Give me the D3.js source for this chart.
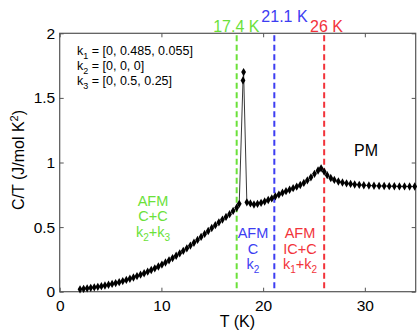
<!DOCTYPE html>
<html><head><meta charset="utf-8">
<script src="https://cdn.jsdelivr.net/npm/d3@7"></script>
<style>
body{margin:0;background:#fff;}
text{font-family:"Liberation Sans",Arial,Helvetica,sans-serif;}
</style></head>
<body><svg id="c" width="418" height="331"></svg>
<script>
const temps = [2.0,2.35,2.7,3.05,3.4,3.75,4.1,4.45,4.8,5.15,5.5,5.85,6.2,6.55,6.9,7.25,7.6,7.95,8.3,8.65,9.0,9.35,9.7,10.05,10.4,10.75,11.1,11.45,11.8,12.15,12.5,12.85,13.2,13.55,13.9,14.25,14.6,14.95,15.3,15.65,16.0,16.35,16.7,17.05,17.4,17.65,
 18.02,18.08,18.4,18.75,19.1,19.45,19.8,20.15,20.5,20.85,21.2,21.55,21.9,22.25,22.6,22.95,23.3,23.65,24.0,24.35,24.7,25.05,25.4,25.7,26.0,26.3,26.65,27.0,27.4,27.8,28.2,28.6,29.0,29.45,29.9,30.4,30.9,31.4,31.9,32.4,32.9,33.4,33.9,34.4,34.9];
const cOverT = [0.018,0.022,0.026,0.030,0.034,0.038,0.043,0.048,0.054,0.060,0.067,0.074,0.082,0.091,0.100,0.110,0.121,0.132,0.143,0.155,0.168,0.181,0.195,0.210,0.226,0.243,0.260,0.278,0.297,0.316,0.336,0.357,0.379,0.401,0.424,0.447,0.470,0.493,0.515,0.537,0.558,0.579,0.600,0.625,0.650,0.680,
 1.635,1.700,0.692,0.683,0.675,0.680,0.688,0.698,0.710,0.722,0.738,0.752,0.766,0.778,0.789,0.801,0.813,0.826,0.842,0.862,0.885,0.912,0.938,0.955,0.930,0.902,0.880,0.865,0.853,0.845,0.839,0.834,0.830,0.827,0.824,0.822,0.820,0.819,0.818,0.817,0.816,0.815,0.815,0.814,0.814];
const xTicks = [0,10,20,30];
const yTicks = [0,0.5,1,1.5,2];
const transitions = [17.4,21.1,26];
const transitionLabels = ["17.4 K","21.1 K","26 K"];
const kLines = [["1","[0, 0.485, 0.055]"],["2","[0, 0, 0]"],["3","[0, 0.5, 0.25]"]];

const green="#6be13a", blue="#3d3df2", red="#f2333a";
const svg=d3.select("#c");
const L=59.7,R=415.7,T=33.3,B=291.7;
const x=d3.scaleLinear().domain([0,35]).range([L,R]);
const y=d3.scaleLinear().domain([0,2]).range([B,T]);
const axc="#555";

// axes
const gx=svg.append("g").attr("transform",`translate(0,${B})`)
 .call(d3.axisBottom(x).tickValues(xTicks).tickSizeInner(-4).tickSizeOuter(0).tickPadding(8.6).tickFormat(d3.format("d")));
const gxt=svg.append("g").attr("transform",`translate(0,${T})`)
 .call(d3.axisTop(x).tickValues(xTicks).tickSizeInner(-4).tickSizeOuter(0).tickFormat(""));
const gy=svg.append("g").attr("transform",`translate(${L},0)`)
 .call(d3.axisLeft(y).tickValues(yTicks).tickSizeInner(-4).tickSizeOuter(0).tickPadding(4.5).tickFormat(d=>d));
const gyr=svg.append("g").attr("transform",`translate(${R},0)`)
 .call(d3.axisRight(y).tickValues(yTicks).tickSizeInner(-4).tickSizeOuter(0).tickFormat(""));
[gx,gy].forEach(g=>g.selectAll("text").attr("font-size",15.5).attr("fill","#000").style("font-family","Liberation Sans, Arial"));
[gxt,gyr].forEach(g=>g.selectAll("text").remove());
[gx,gxt,gy,gyr].forEach(g=>{g.select(".domain").remove();g.selectAll("line").attr("stroke",axc);});
svg.append("rect").attr("x",L).attr("y",T).attr("width",R-L).attr("height",B-T)
 .attr("fill","none").attr("stroke",axc).attr("stroke-width",1.2);

// transition lines
const tcols=[green,blue,red];
transitions.forEach((t,i)=>{
 svg.append("line").attr("x1",x(t)).attr("x2",x(t)).attr("y1",T+2).attr("y2",B)
  .attr("stroke",tcols[i]).attr("stroke-width",2).attr("stroke-dasharray","6,3.5");
});
const tlx=[236.3,284.5,326.5], tly=[31.5,21.5,31.5];
transitionLabels.forEach((s,i)=>{
 svg.append("text").attr("x",tlx[i]).attr("y",tly[i]).attr("text-anchor","middle")
  .attr("font-size",16).attr("fill",tcols[i]).text(s);
});

// data
const pts=temps.map((t,i)=>[t,cOverT[i]]);
svg.append("path").datum(pts).attr("fill","none").attr("stroke","#222").attr("stroke-width",0.9)
 .attr("d",d3.line().x(d=>x(d[0])).y(d=>y(d[1])));
svg.append("g").selectAll("path").data(pts).join("path")
 .attr("transform",d=>`translate(${x(d[0])},${y(d[1])})`)
 .attr("d",d3.symbol(d3.symbolDiamond,20)).attr("fill","#000");

// axis labels
svg.append("text").attr("x",237.5).attr("y",327).attr("text-anchor","middle").attr("font-size",16).text("T (K)");
const yl=svg.append("text").attr("transform","translate(24,160) rotate(-90)").attr("text-anchor","middle").attr("font-size",16);
yl.append("tspan").text("C/T (J/mol K");
yl.append("tspan").attr("font-size",11).attr("dy",-6).text("2");
yl.append("tspan").attr("dy",6).text(")");

// k legend
kLines.forEach((k,i)=>{
 const t=svg.append("text").attr("x",77).attr("y",54.5+i*15.2).attr("font-size",12.5);
 t.append("tspan").text("k");
 t.append("tspan").attr("font-size",9).attr("dy",4).text(k[0]);
 t.append("tspan").attr("dy",-4).text(" = "+k[1]);
});

// PM
svg.append("text").attr("x",366).attr("y",156).attr("text-anchor","middle").attr("font-size",16).text("PM");

// phase labels: each line is a list of [text, isSubscript]
function phase(cx,y0,lines,col){
 lines.forEach((ln,i)=>{
  const t=svg.append("text").attr("x",cx).attr("y",y0+i*15.5).attr("text-anchor","middle").attr("font-size",14.5).attr("fill",col);
  let prevSub=false;
  ln.forEach(p=>{
   const ts=t.append("tspan").text(p[0]);
   if(p[1]){ts.attr("font-size",10).attr("dy",4);prevSub=true;}
   else{ if(prevSub) ts.attr("dy",-4); prevSub=false;}
  });
 });
}
phase(153,205.5,[[["AFM"]],[["C+C"]],[["k"],["2",1],["+k"],["3",1]]],green);
phase(253,238.3,[[["AFM"]],[["C"]],[["k"],["2",1]]],blue);
phase(300,238.3,[[["AFM"]],[["IC+C"]],[["k"],["1",1],["+k"],["2",1]]],red);
</script></body></html>
